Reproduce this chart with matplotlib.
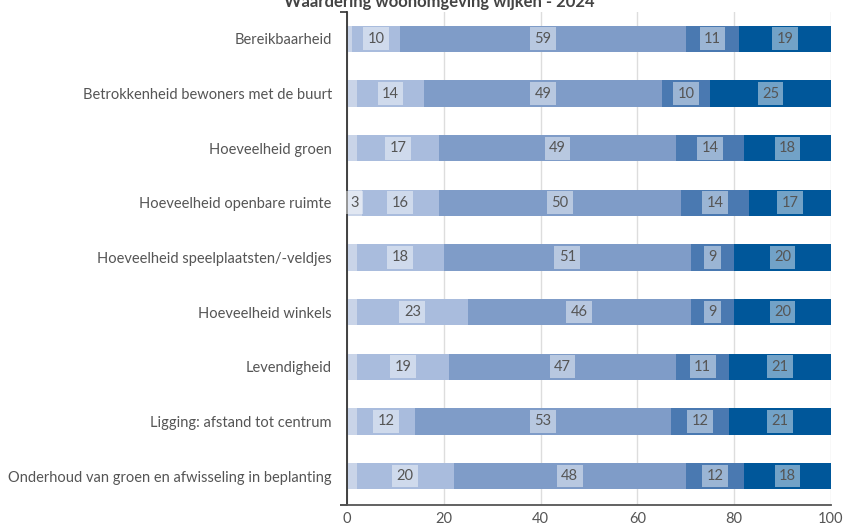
import matplotlib
matplotlib.use("Agg")
import matplotlib.pyplot as plt
import numpy as np

categories = [
    "Bereikbaarheid",
    "Betrokkenheid bewoners met de buurt",
    "Hoeveelheid groen",
    "Hoeveelheid openbare ruimte",
    "Hoeveelheid speelplaatsten/-veldjes",
    "Hoeveelheid winkels",
    "Levendigheid",
    "Ligging: afstand tot centrum",
    "Onderhoud van groen en afwisseling in beplanting",
]
seg1 = [1, 2, 2, 3, 2, 2, 2, 2, 2]
seg2 = [10, 14, 17, 16, 18, 23, 19, 12, 20]
seg3 = [59, 49, 49, 50, 51, 46, 47, 53, 48]
seg4 = [11, 10, 14, 14, 9, 9, 11, 12, 12]
seg5 = [19, 25, 18, 17, 20, 20, 21, 21, 18]
series = [seg1, seg2, seg3, seg4, seg5]
colors = ["#c9d4e8", "#a9bcdd", "#7f9cc8", "#4a79b1", "#00579a"]
xticks = [0, 20, 40, 60, 80, 100]
title = "Waardering woonomgeving wijken - 2024"

plt.rcParams['font.family'] = ['Lato', 'DejaVu Sans']
fig = plt.figure(figsize=(8.45, 5.25), dpi=100)
ax = fig.add_axes([0.4107, 0.038, 0.5727, 0.939])

y = np.arange(len(categories))
left = np.zeros(len(categories))
for vals, col in zip(series, colors):
    vals = np.array(vals, dtype=float)
    ax.barh(y, vals, left=left, height=0.48, color=col, zorder=2)
    for yi, (l, v) in enumerate(zip(left, vals)):
        if v >= 3:
            ax.text(l + v / 2, yi, f"{int(v)}", ha='center', va='center',
                    fontsize=10.5, color='#555555', zorder=3,
                    bbox=dict(boxstyle='square,pad=0.3', facecolor='white',
                              edgecolor='none', alpha=0.45))
    left += vals

ax.set_xlim(0, 100)
ax.set_ylim(8.53, -0.49)
ax.set_xticks(xticks)
ax.set_xticklabels([str(t) for t in xticks])
ax.set_yticks(y)
ax.set_yticklabels(categories)
ax.set_yticks([-0.49, 8.53], minor=True)
ax.tick_params(axis='y', which='major', length=0, pad=11, labelsize=10.5, labelcolor='#555555')
ax.tick_params(axis='y', which='minor', length=5, width=1.2, color='#333333')
ax.tick_params(axis='x', length=0, pad=5, labelsize=10.5, labelcolor='#555555')
ax.grid(axis='x', color='#dddddd', linewidth=1, zorder=0)
ax.set_axisbelow(True)
for s in ['top', 'right']:
    ax.spines[s].set_visible(False)
ax.spines['left'].set_color('#333333')
ax.spines['left'].set_linewidth(1.3)
ax.spines['bottom'].set_color('#555555')
ax.spines['bottom'].set_linewidth(1.3)

fig.text(0.52, 0.997, title, ha='center', va='center', fontsize=12,
         fontweight='bold', color='#444444')

fig.savefig("out.png", dpi=100)
